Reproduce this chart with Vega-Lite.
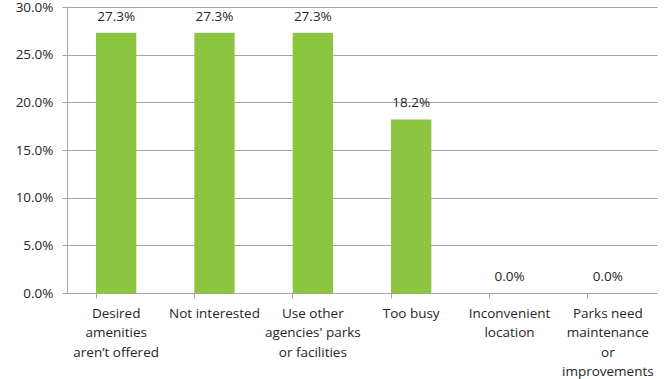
{
  "$schema": "https://vega.github.io/schema/vega-lite/v6.json",
  "autosize": "none",
  "width": 590,
  "height": 286,
  "padding": {"left": 67, "top": 7, "right": 13, "bottom": 86},
  "background": "white",
  "config": {
    "view": {"stroke": null},
    "font": "Open Sans",
    "axis": {"labelFont": "Open Sans", "labelFontSize": 13.5, "labelColor": "#262626", "domainColor": "#a6a6a6", "tickColor": "#a6a6a6", "gridColor": "#a6a6a6", "labelOverlap": false}
  },
  "data": {
    "values": [
      {"reason": "Desired amenities aren’t offered", "pct": 0.273},
      {"reason": "Not interested", "pct": 0.273},
      {"reason": "Use other agencies' parks or facilities", "pct": 0.273},
      {"reason": "Too busy", "pct": 0.182},
      {"reason": "Inconvenient location", "pct": 0.0},
      {"reason": "Parks need maintenance or improvements", "pct": 0.0}
    ]
  },
  "encoding": {
    "x": {
      "field": "reason",
      "type": "nominal",
      "sort": null,
      "scale": {"paddingInner": 0.59, "paddingOuter": 0.295},
      "axis": {
        "title": null,
        "labelAngle": 0,
        "bandPosition": 0,
        "tickSize": 5,
        "labelPadding": 8,
        "labelLineHeight": 19.5,
        "labelBaseline": "top",
        "labelLimit": 200,
        "labelExpr": "datum.value == 'Desired amenities aren’t offered' ? ['Desired', 'amenities', 'aren’t offered'] : datum.value == 'Use other agencies\\' parks or facilities' ? ['Use other', 'agencies\\' parks', 'or facilities'] : datum.value == 'Inconvenient location' ? ['Inconvenient', 'location'] : datum.value == 'Parks need maintenance or improvements' ? ['Parks need', 'maintenance', 'or', 'improvements'] : datum.value"
      }
    },
    "y": {
      "field": "pct",
      "type": "quantitative",
      "scale": {"domain": [0, 0.3], "nice": false},
      "axis": {"title": null, "format": ".1%", "values": [0, 0.05, 0.1, 0.15, 0.2, 0.25, 0.3], "tickSize": 5, "labelPadding": 9, "grid": true}
    }
  },
  "layer": [
    {"mark": {"type": "bar", "color": "#8cc540"}},
    {
      "mark": {"type": "text", "baseline": "bottom", "dy": -9, "fontSize": 13.5, "color": "#262626", "font": "Open Sans"},
      "encoding": {"text": {"field": "pct", "type": "quantitative", "format": ".1%"}}
    }
  ]
}
